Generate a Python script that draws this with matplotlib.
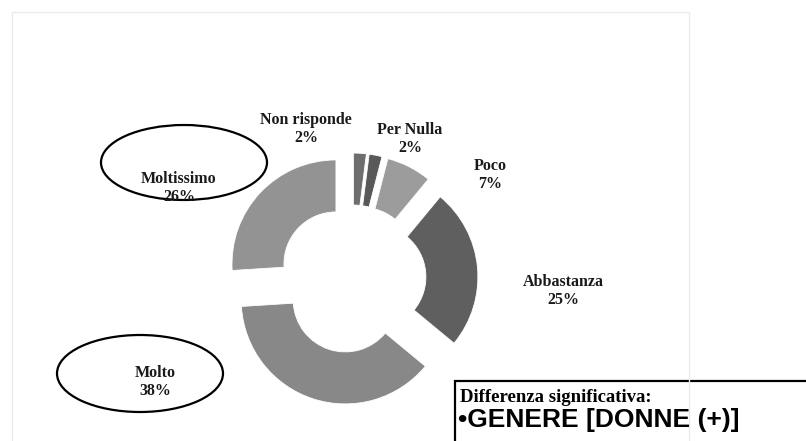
import matplotlib.pyplot as plt
from matplotlib.patches import Ellipse, Rectangle

categories = ['Non risponde', 'Per Nulla', 'Poco', 'Abbastanza', 'Molto', 'Moltissimo']
percentages = [2, 2, 7, 25, 38, 26]
colors = ['#6e6e6e', '#595959', '#9c9c9c', '#5f5f5f', '#888888', '#939393']

W, H = 806, 441

# label anchor points in pixel coords (x, y from top)
label_pos = {
    'Non risponde': (306, 129),
    'Per Nulla': (410, 139),
    'Poco': (490, 175),
    'Abbastanza': (563, 291),
    'Molto': (155, 382),
    'Moltissimo': (179, 188),
}

fig = plt.figure(figsize=(W / 100, H / 100), dpi=100)
ax = fig.add_axes([0, 0, 1, 1])

ax.pie(percentages, radius=104, center=(352, H - 279), startangle=90,
       counterclock=False, colors=colors, explode=[22] * len(percentages),
       wedgeprops=dict(width=52, edgecolor='white', linewidth=0.6))

ax.set_xlim(0, W)
ax.set_ylim(0, H)
ax.set_aspect('equal')
ax.axis('off')

# faint chart-area border
ax.plot([12, 12, 689, 689], [0, H - 12, H - 12, 0], color='#ebebeb', lw=1)

for cat, pct in zip(categories, percentages):
    x, y = label_pos[cat]
    ax.text(x, H - y, '%s\n%d%%' % (cat, pct), ha='center', va='center',
            fontsize=11.5, fontweight='bold', family='Liberation Serif',
            color='#1a1a1a', linespacing=1.18)

# hand-drawn ellipses
ax.add_patch(Ellipse((184, H - 162.5), 166, 75, fill=False, ec='black', lw=1.6))
ax.add_patch(Ellipse((140, H - 373.5), 166, 77, fill=False, ec='black', lw=1.6))

# note box
ax.add_patch(Rectangle((455, -20), 400, H - 381 + 20, fill=False, ec='black', lw=1.6))
ax.text(460, H - 398, 'Differenza significativa:', ha='left', va='center',
        fontsize=13.5, fontweight='bold', family='Liberation Serif', color='black')
ax.text(458, H - 420, '\u2022GENERE [DONNE (+)]', ha='left', va='center',
        fontsize=19, fontweight='bold', family='Liberation Sans', color='black')

plt.savefig('out.png', dpi=100)
